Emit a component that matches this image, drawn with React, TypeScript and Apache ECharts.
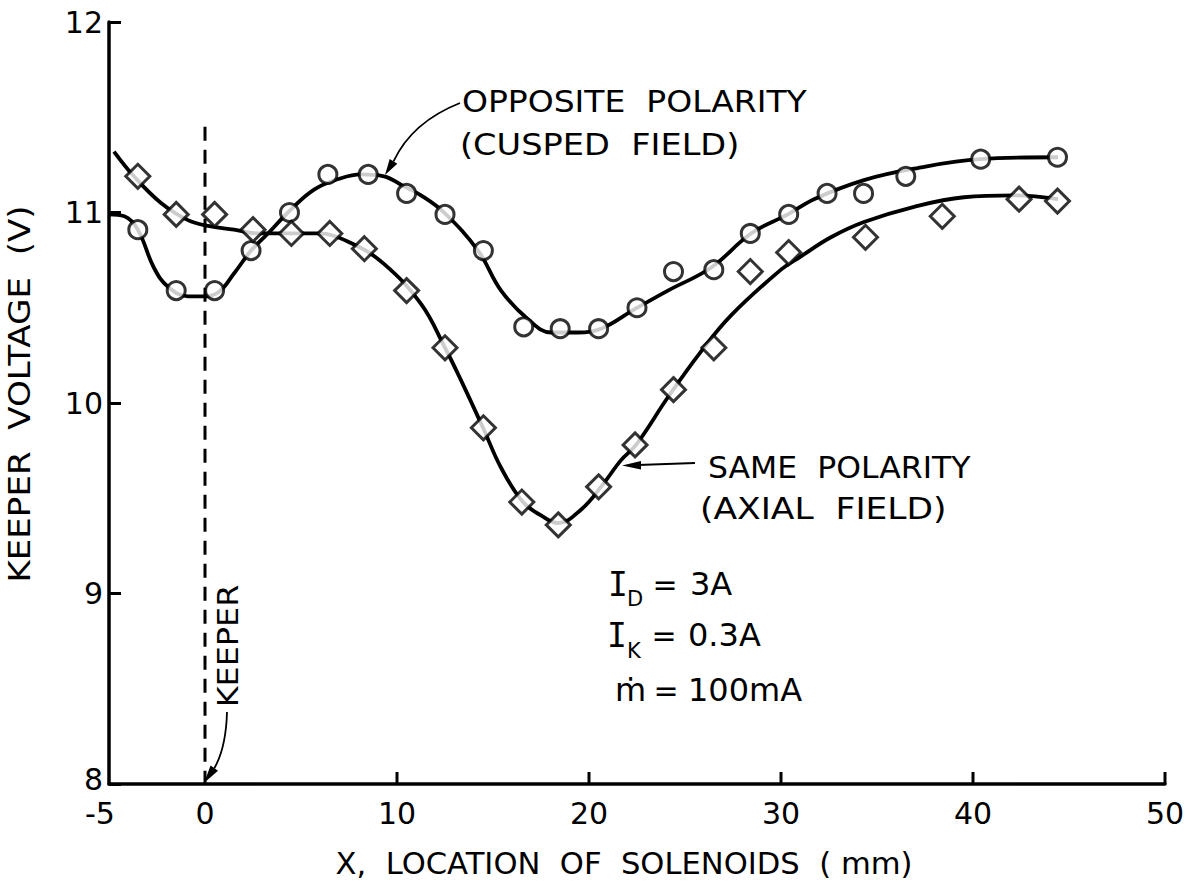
import React, { useEffect, useRef } from "react";
import * as echarts from "echarts";

// ---- data ----
// measured points: [x (mm), keeper voltage (V)]
const OPPOSITE_POINTS: number[][] = [
  [-3.5, 10.91], [-1.5, 10.59], [0.5, 10.59], [2.4, 10.8], [4.4, 11.0], [6.4, 11.2],
  [8.5, 11.2], [10.5, 11.1], [12.5, 10.99], [14.5, 10.8], [16.6, 10.4], [18.5, 10.39],
  [20.5, 10.39], [22.5, 10.5], [24.4, 10.69], [26.5, 10.7], [28.4, 10.89], [30.4, 10.99],
  [32.4, 11.1], [34.3, 11.1], [36.5, 11.19], [40.4, 11.28], [44.4, 11.29],
];
const SAME_POINTS: number[][] = [
  [-3.5, 11.19], [-1.5, 10.99], [0.5, 10.99], [2.5, 10.91], [4.5, 10.89], [6.5, 10.89],
  [8.3, 10.81], [10.5, 10.59], [12.5, 10.29], [14.5, 9.87], [16.5, 9.48], [18.4, 9.36],
  [20.5, 9.56], [22.4, 9.78], [24.4, 10.07], [26.5, 10.29], [28.4, 10.69], [30.4, 10.79],
  [34.4, 10.87], [38.4, 10.98], [42.4, 11.07], [44.4, 11.06],
];
// hand-drawn fitted curves
const OPPOSITE_CURVE: number[][] = [
  [-5.0, 10.99], [-4.2, 10.98], [-3.5, 10.91], [-2.66, 10.71], [-1.93, 10.61], [-0.89, 10.56],
  [-0.21, 10.56], [0.68, 10.58], [1.51, 10.68], [2.4, 10.8], [3.28, 10.89], [4.32, 11.0],
  [5.68, 11.12], [7.08, 11.18], [8.13, 11.2], [9.32, 11.19], [10.31, 11.14], [11.25, 11.09],
  [12.45, 11.0], [14.22, 10.8], [15.42, 10.59], [16.82, 10.44], [18.02, 10.37], [19.43, 10.37],
  [20.63, 10.39], [22.34, 10.49], [24.11, 10.59], [26.35, 10.71], [28.44, 10.89], [30.36, 10.99],
  [31.72, 11.07], [34.32, 11.17], [36.93, 11.23], [40.36, 11.28], [44.43, 11.29],
];
const SAME_CURVE: number[][] = [
  [-4.74, 11.32], [-3.7, 11.19], [-2.29, 11.05], [-0.89, 10.96], [0.16, 10.93], [1.51, 10.91],
  [2.76, 10.89], [4.11, 10.89], [5.89, 10.89], [7.6, 10.84], [9.32, 10.73], [11.25, 10.52],
  [12.5, 10.29], [13.33, 10.12], [14.48, 9.87], [15.42, 9.66], [16.56, 9.48], [17.5, 9.41],
  [18.39, 9.37], [19.58, 9.44], [20.63, 9.56], [21.67, 9.7], [22.45, 9.78], [24.11, 10.03],
  [25.83, 10.27], [27.4, 10.46], [30.0, 10.7], [31.04, 10.77], [32.6, 10.87], [34.32, 10.95],
  [36.93, 11.03], [39.53, 11.08], [42.14, 11.09], [44.43, 11.07],
];
const KEEPER_LINE: number[][] = [[0, 11.45], [0, 8]];
const X_TICKS: number[] = [10, 20, 30, 40, 50];
const X_LABELS: number[] = [-5, 0, 10, 20, 30, 40, 50];

const FONT = "DejaVu Sans";
const MONO = "DejaVu Sans Mono";

function txt(
  text: string, x: number, y: number, size: number,
  opts: { align?: string; rotation?: number; scaleX?: number; family?: string } = {}
) {
  return {
    type: "text",
    x, y,
    rotation: opts.rotation || 0,
    scaleX: opts.scaleX || 1,
    style: {
      text,
      fontFamily: opts.family || FONT,
      fontSize: size,
      fill: "#000",
      textAlign: opts.align || "left",
      textVerticalAlign: "middle",
    },
  };
}

export default function App() {
  const ref = useRef<HTMLDivElement>(null);

  useEffect(() => {
    if (!ref.current) return;
    const chart = echarts.init(ref.current, null, { renderer: "svg" });

    const graphic: any[] = [
      // annotations
      txt("OPPOSITE  POLARITY", 462, 102, 30, { scaleX: 1.1 }),
      txt("(CUSPED  FIELD)", 460, 145, 30, { scaleX: 1.12 }),
      txt("SAME  POLARITY", 708, 467, 30, { scaleX: 1.05 }),
      txt("(AXIAL  FIELD)", 700, 509, 30, { scaleX: 1.15 }),
      txt("KEEPER", 228, 646, 29, { align: "center", rotation: Math.PI / 2, scaleX: 1.1 }),
      // axis titles
      txt("KEEPER  VOLTAGE  (V)", 20, 394, 31, { align: "center", rotation: Math.PI / 2, scaleX: 1.1 }),
      txt("X,  LOCATION  OF  SOLENOIDS  ( mm)", 624, 864, 30, { align: "center", scaleX: 1.02 }),
      // operating conditions
      txt("I", 608, 584, 33, { family: MONO }),
      txt("D", 627, 599, 21),
      txt("=", 665, 584, 30, { align: "center" }),
      txt("3A", 690, 584, 32),
      txt("I", 607, 635, 33, { family: MONO }),
      txt("K", 627, 651, 21),
      txt("=", 664, 635, 30, { align: "center" }),
      txt("0.3A", 688, 635, 32),
      txt("ṁ", 615, 690, 32),
      txt("=", 666, 690, 30, { align: "center" }),
      txt("100mA", 688, 690, 32),
      // arrow: opposite polarity
      {
        type: "bezierCurve",
        shape: { x1: 460, y1: 103, cpx1: 412, cpy1: 122, x2: 393.5, y2: 161.4 },
        style: { stroke: "#000", lineWidth: 1.8, fill: null },
      },
      {
        type: "polygon",
        shape: { points: [[385, 175], [397.3, 163.8], [389.7, 159.0]] },
        style: { fill: "#000" },
      },
      // arrow: same polarity
      {
        type: "line",
        shape: { x1: 695, y1: 463, x2: 638, y2: 465 },
        style: { stroke: "#000", lineWidth: 1.8 },
      },
      {
        type: "polygon",
        shape: { points: [[622, 465.5], [641, 461], [641, 469.5]] },
        style: { fill: "#000" },
      },
      // arrow: keeper
      {
        type: "bezierCurve",
        shape: { x1: 227, y1: 712, cpx1: 226, cpy1: 748, x2: 214.3, y2: 768.2 },
        style: { stroke: "#000", lineWidth: 1.8, fill: null },
      },
      {
        type: "polygon",
        shape: { points: [[204, 783], [218, 770.8], [210.6, 765.6]] },
        style: { fill: "#000" },
      },
    ];

    chart.setOption({
      animation: false,
      backgroundColor: "#fff",
      textStyle: { fontFamily: FONT },
      grid: { left: 109, top: 22, right: 25, bottom: 98, containLabel: false },
      xAxis: {
        type: "value",
        min: -5,
        max: 50,
        interval: 5,
        splitLine: { show: false },
        axisLine: { show: true, onZero: false, lineStyle: { color: "#000", width: 3.5 } },
        axisTick: { show: false },
        axisLabel: {
          color: "#000",
          fontSize: 30,
          lineHeight: 26,
          fontFamily: FONT,
          margin: 16,
          formatter: (v: number) =>
            v === -5 ? "{n|-5}" : X_LABELS.indexOf(v) >= 0 ? String(v) : "",
          rich: {
            n: { fontSize: 30, lineHeight: 26, fontFamily: FONT, color: "#000", padding: [0, 18, 0, 0] },
          },
        },
      },
      yAxis: {
        type: "value",
        min: 8,
        max: 12,
        interval: 1,
        splitLine: { show: false },
        axisLine: { show: true, onZero: false, lineStyle: { color: "#000", width: 3.5 } },
        axisTick: { show: true, inside: true, length: 12, lineStyle: { color: "#000", width: 3 } },
        axisLabel: {
          color: "#000",
          fontSize: 30,
          lineHeight: 26,
          fontFamily: FONT,
          margin: 6,
          formatter: (v: number) => (v === 8 ? "{e|8}" : String(v)),
          rich: {
            e: { fontSize: 30, lineHeight: 26, fontFamily: FONT, color: "#000", padding: [0, 0, 10, 0] },
          },
        },
      },
      graphic,
      series: [
        {
          type: "line",
          data: OPPOSITE_CURVE,
          smooth: 0.4,
          showSymbol: false,
          lineStyle: { color: "#000", width: 3.8 },
          z: 2,
        },
        {
          type: "line",
          data: SAME_CURVE,
          smooth: 0.4,
          showSymbol: false,
          lineStyle: { color: "#000", width: 3.8 },
          z: 2,
        },
        {
          type: "line",
          data: KEEPER_LINE,
          showSymbol: false,
          lineStyle: { color: "#000", width: 3, type: [14, 9] },
          z: 1,
        },
        {
          type: "custom",
          data: X_TICKS.map((v) => [v, 8]),
          encode: { x: 0, y: 1 },
          clip: false,
          renderItem: (params: any, api: any) => {
            const p = api.coord([api.value(0), api.value(1)]);
            return {
              type: "line",
              shape: { x1: p[0], y1: p[1], x2: p[0], y2: p[1] - 12 },
              style: { stroke: "#000", lineWidth: 3 },
            };
          },
          z: 3,
        },
        {
          type: "scatter",
          data: OPPOSITE_POINTS,
          symbol: "circle",
          symbolSize: 18,
          itemStyle: { color: "#fff", borderColor: "#000", borderWidth: 3 },
          z: 5,
        },
        {
          type: "scatter",
          data: SAME_POINTS,
          symbol: "diamond",
          symbolSize: 24,
          itemStyle: { color: "#fff", borderColor: "#000", borderWidth: 3 },
          z: 5,
        },
      ],
    });

    return () => chart.dispose();
  }, []);

  return (
    <div
      ref={ref}
      style={{ position: "absolute", left: 0, top: 0, width: 1190, height: 882, background: "#fff" }}
    />
  );
}
